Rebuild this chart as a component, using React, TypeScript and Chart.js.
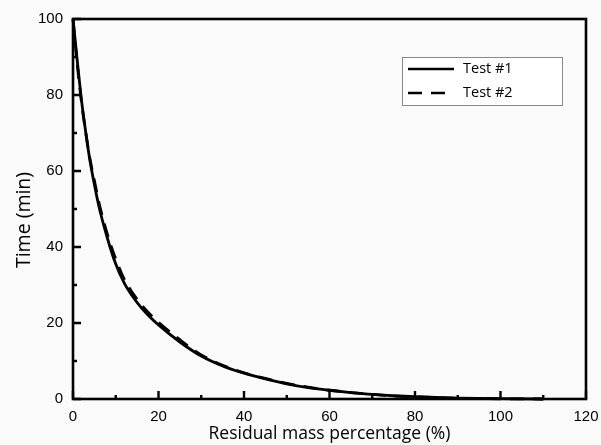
import React, { useEffect, useRef } from "react";
import { Chart, registerables } from "chart.js";

Chart.register(...registerables);

// ---- Data ----
const residualMass = [0, 1, 2, 3, 4, 5, 6, 8, 10, 12, 14, 16, 18, 20, 25, 30, 35, 40, 45, 50, 55, 60, 65, 70, 75, 80, 90, 100, 110];
const test1Time = [100, 89, 78.5, 70, 62.5, 56.5, 51, 42.5, 35.5, 30.5, 26.9, 24, 21.6, 19.5, 15, 11.3, 8.7, 6.8, 5.3, 4.0, 3.0, 2.3, 1.7, 1.2, 0.85, 0.6, 0.25, 0.08, 0];
const test2Time = [100, 88, 78, 70, 63, 57.5, 52, 43.5, 36.8, 31.5, 27.8, 24.8, 22.3, 20.2, 15.6, 11.6, 8.9, 6.9, 5.4, 4.1, 3.1, 2.3, 1.7, 1.2, 0.8, 0.55, 0.2, 0.05, 0];
const seriesNames = ["Test #1", "Test #2"];
const xRange = [0, 120];
const yRange = [0, 100];
const majorStep = 20;
const minorStep = 10;
const xTitle = "Residual mass percentage (%)";
const yTitle = "Time (min)";

const TITLE_FONT = "'Open Sans', 'Noto Sans', sans-serif";
const TICK_FONT = "'Liberation Sans', Arial, sans-serif";

const bgPlugin = {
  id: "bg",
  beforeDraw(chart: any) {
    const { ctx, width, height } = chart;
    ctx.save();
    ctx.fillStyle = "#fafafa";
    ctx.fillRect(0, 0, width, height);
    ctx.restore();
  },
};

const framePlugin = {
  id: "frame",
  afterDatasetsDraw(chart: any) {
    const { ctx, chartArea } = chart;
    const { left, right, top, bottom } = chartArea;
    const xs = chart.scales.x;
    const ys = chart.scales.y;
    ctx.save();
    ctx.strokeStyle = "#000";
    ctx.lineWidth = 2.6;
    ctx.strokeRect(left, top, right - left, bottom - top);
    ctx.lineWidth = 2.4;
    ctx.beginPath();
    for (let v = xRange[0]; v <= xRange[1]; v += minorStep) {
      const px = xs.getPixelForValue(v);
      const len = v % majorStep === 0 ? 8 : 4;
      ctx.moveTo(px, bottom);
      ctx.lineTo(px, bottom - len);
    }
    for (let v = yRange[0]; v <= yRange[1]; v += minorStep) {
      const py = ys.getPixelForValue(v);
      const len = v % majorStep === 0 ? 8 : 4;
      ctx.moveTo(left, py);
      ctx.lineTo(left + len, py);
    }
    ctx.stroke();
    ctx.restore();
  },
};

const yTitlePlugin = {
  id: "yTitle",
  afterDraw(chart: any) {
    const { ctx, chartArea } = chart;
    ctx.save();
    ctx.translate(30, (chartArea.top + chartArea.bottom) / 2 + 11);
    ctx.rotate(-Math.PI / 2);
    ctx.fillStyle = "#000";
    ctx.font = `19.5px ${TITLE_FONT}`;
    ctx.textAlign = "center";
    ctx.textBaseline = "alphabetic";
    ctx.fillText(yTitle, 0, 0);
    ctx.restore();
  },
};

const legendPlugin = {
  id: "boxLegend",
  afterDraw(chart: any) {
    const { ctx, chartArea } = chart;
    const boxW = 160;
    const boxH = 48;
    const bx = chartArea.right - 24 - boxW;
    const by = chartArea.top + 38;
    ctx.save();
    ctx.fillStyle = "#ffffff";
    ctx.fillRect(bx, by, boxW, boxH);
    ctx.strokeStyle = "#8a8a8a";
    ctx.lineWidth = 1;
    ctx.strokeRect(bx + 0.5, by + 0.5, boxW, boxH);
    chart.data.datasets.forEach((ds: any, i: number) => {
      const cy = by + 12 + i * 24;
      ctx.strokeStyle = "#000";
      ctx.lineWidth = 2.6;
      ctx.setLineDash(ds.borderDash || []);
      ctx.beginPath();
      ctx.moveTo(bx + 6, cy);
      ctx.lineTo(bx + 52, cy);
      ctx.stroke();
      ctx.setLineDash([]);
      ctx.fillStyle = "#000";
      ctx.font = `14.5px ${TITLE_FONT}`;
      ctx.textBaseline = "middle";
      ctx.textAlign = "left";
      ctx.fillText(ds.label, bx + 61, cy);
    });
    ctx.restore();
  },
};

export default function App() {
  const ref = useRef<HTMLCanvasElement | null>(null);

  useEffect(() => {
    if (!ref.current) return;
    const chart = new Chart(ref.current, {
      type: "line",
      data: {
        datasets: [
          {
            label: seriesNames[0],
            data: residualMass.map((x, i) => ({ x, y: test1Time[i] })),
            borderColor: "#000",
            borderWidth: 2.8,
            pointRadius: 0,
            cubicInterpolationMode: "monotone",
            fill: false,
          },
          {
            label: seriesNames[1],
            data: residualMass.map((x, i) => ({ x, y: test2Time[i] })),
            borderColor: "#000",
            borderWidth: 2.8,
            borderDash: [14, 9],
            pointRadius: 0,
            cubicInterpolationMode: "monotone",
            fill: false,
          },
        ],
      },
      options: {
        animation: false,
        responsive: false,
        clip: 4,
        layout: { padding: { left: 0, right: 15, top: 19, bottom: 0 } },
        plugins: {
          legend: { display: false },
          tooltip: { enabled: false },
        },
        scales: {
          x: {
            type: "linear",
            min: xRange[0],
            max: xRange[1],
            grid: { display: false, drawTicks: false },
            border: { display: false },
            ticks: {
              stepSize: majorStep,
              color: "#000",
              padding: 9,
              maxRotation: 0,
              font: { family: TICK_FONT, size: 15 },
            },
            title: {
              display: true,
              text: xTitle,
              color: "#000",
              font: { family: TITLE_FONT, size: 17.5 },
              padding: { top: 0, bottom: 0 },
            },
            afterFit(scale: any) {
              scale.height = 46;
              scale.paddingLeft = 0;
              scale.paddingRight = 0;
            },
          },
          y: {
            type: "linear",
            min: yRange[0],
            max: yRange[1],
            grid: { display: false, drawTicks: false },
            border: { display: false },
            ticks: {
              stepSize: majorStep,
              color: "#000",
              padding: 10,
              font: { family: TICK_FONT, size: 15 },
            },
            title: { display: false, text: yTitle },
            afterFit(scale: any) {
              scale.width = 73;
              scale.paddingTop = 0;
              scale.paddingBottom = 0;
            },
          },
        },
      } as any,
      plugins: [bgPlugin, framePlugin, yTitlePlugin, legendPlugin],
    });
    return () => chart.destroy();
  }, []);

  return (
    <div style={{ position: "fixed", left: 0, top: 0, width: 601, height: 445 }}>
      <canvas ref={ref} width={601} height={445} />
    </div>
  );
}
